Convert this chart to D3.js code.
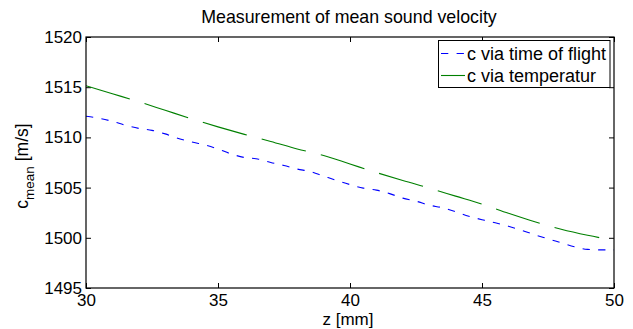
<!DOCTYPE html>
<html>
<head>
<meta charset="utf-8">
<script src="https://cdn.jsdelivr.net/npm/d3@7/dist/d3.min.js"></script>
<style>
  html, body { margin: 0; padding: 0; background: #fff; }
  svg { display: block; }
  text { font-family: "Liberation Sans", Arial, sans-serif; fill: #000; }
</style>
</head>
<body>
<svg id="chart" width="633" height="329"></svg>
<script>
// ---- data ----
const zTof = [30,30.5,31,31.5,32,32.5,33,33.5,34,34.5,35,35.5,36,36.5,37,37.5,38,38.5,39,39.5,40,
              40.5,41,41.5,42,42.5,43,43.5,44,44.5,45,45.5,46,46.5,47,47.5,48,48.5,49,49.5,50];
const cTof = [1512.1,1511.9,1511.6,1511.2,1510.9,1510.7,1510.35,1509.9,1509.55,1509.25,1508.85,
              1508.35,1508.0,1507.85,1507.5,1507.2,1506.85,1506.6,1506.15,1505.7,1505.3,
              1504.95,1504.75,1504.4,1503.95,1503.65,1503.25,1503.0,1502.6,1502.15,1501.8,
              1501.5,1501.15,1500.75,1500.3,1499.9,1499.5,1499.1,1498.85,1498.8,1498.8];
const zTemp = [30,31,32,33,34,35,36,37,38,39,40,41,42,43,44,45,46,47,48,49,50];
const cTemp = [1515.15,1514.35,1513.55,1512.7,1511.85,1511.05,1510.3,1509.6,1508.85,1508.2,1507.35,
               1506.5,1505.7,1504.95,1504.15,1503.35,1502.45,1501.6,1500.85,1500.25,1499.75];
const xTicks = [30,35,40,45,50];
const yTicks = [1495,1500,1505,1510,1515,1520];
const seriesNames = ["c via time of flight","c via temperatur"];
const titleText = "Measurement of mean sound velocity";
const xLabelText = "z [mm]";

// ---- layout ----
const svg = d3.select("#chart");
const L = 86, R = 614, T = 37, B = 288;
const x = d3.scaleLinear().domain([30,50]).range([L,R]);
const y = d3.scaleLinear().domain([1495,1520]).range([B,T]);
const fmt = d3.format("d");

svg.append("rect").attr("x",0).attr("y",0).attr("width",633).attr("height",329).attr("fill","#fff");

// axes (inward ticks, box style)
const fs = "17px";
const gx = svg.append("g").attr("transform",`translate(0,${B})`)
  .call(d3.axisBottom(x).tickValues(xTicks).tickFormat(fmt).tickSizeInner(-5).tickSizeOuter(0).tickPadding(6));
const gxt = svg.append("g").attr("transform",`translate(0,${T})`)
  .call(d3.axisTop(x).tickValues(xTicks).tickSizeInner(-5).tickSizeOuter(0).tickFormat(""));
const gy = svg.append("g").attr("transform",`translate(${L},0)`)
  .call(d3.axisLeft(y).tickValues(yTicks).tickFormat(fmt).tickSizeInner(-5).tickSizeOuter(0).tickPadding(4));
const gyr = svg.append("g").attr("transform",`translate(${R},0)`)
  .call(d3.axisRight(y).tickValues(yTicks).tickSizeInner(-5).tickSizeOuter(0).tickFormat(""));
[gx,gxt,gy,gyr].forEach(g => {
  g.select(".domain").remove();
  g.selectAll("line").attr("stroke","#000").attr("stroke-width",1);
  g.selectAll("text").style("font-size",fs).style("font-family",'"Liberation Sans", Arial, sans-serif').attr("fill","#000");
});

// lines
svg.append("clipPath").attr("id","clipPlot").append("rect")
  .attr("x",L).attr("y",T).attr("width",R-L).attr("height",B-T);
const lineTof = d3.line().x((d,i)=>x(zTof[i])).y(d=>y(d)).curve(d3.curveMonotoneX);
const lineTemp = d3.line().x((d,i)=>x(zTemp[i])).y(d=>y(d)).curve(d3.curveMonotoneX);

svg.append("path").attr("d",lineTemp(cTemp)).attr("fill","none")
  .attr("stroke","#008000").attr("stroke-width",1.1).attr("stroke-dasharray","45.8,15.4")
  .attr("clip-path","url(#clipPlot)");
svg.append("path").attr("d",lineTof(cTof)).attr("fill","none")
  .attr("stroke","#0000ff").attr("stroke-width",1.1).attr("stroke-dasharray","7.3,8.3")
  .attr("clip-path","url(#clipPlot)");

// box
svg.append("rect").attr("x",L).attr("y",T).attr("width",R-L).attr("height",B-T)
  .attr("fill","none").attr("stroke","#000").attr("stroke-width",1.2);

// legend
const lg = svg.append("g");
lg.append("rect").attr("x",438.5).attr("y",40.5).attr("width",171.5).attr("height",47)
  .attr("fill","#fff").attr("stroke","#000").attr("stroke-width",1);
const legY = [53.5, 75.5];
const legColors = ["#0000ff","#008000"];
seriesNames.forEach((name,i) => {
  const ln = lg.append("line").attr("x1",441).attr("x2",465).attr("y1",legY[i]).attr("y2",legY[i])
    .attr("stroke",legColors[i]).attr("stroke-width",1.1);
  if (i === 0) ln.attr("stroke-dasharray","7.3,8.3");
  lg.append("text").attr("x",467).attr("y",legY[i]+6.5).style("font-size","18px").text(name);
});

// title
svg.append("text").attr("x",349).attr("y",23).attr("text-anchor","middle")
  .style("font-size","17.8px").text(titleText);

// x label
svg.append("text").attr("x",348).attr("y",325).attr("text-anchor","middle")
  .style("font-size","17px").text(xLabelText);

// y label: c_mean [m/s]
const yl = svg.append("text").attr("transform","translate(28,166) rotate(-90)")
  .attr("text-anchor","middle").style("font-size","17.5px");
yl.append("tspan").text("c");
yl.append("tspan").attr("dy",6).style("font-size","13.5px").text("mean");
yl.append("tspan").attr("dy",-6).text(" [m/s]");
</script>
</body>
</html>
